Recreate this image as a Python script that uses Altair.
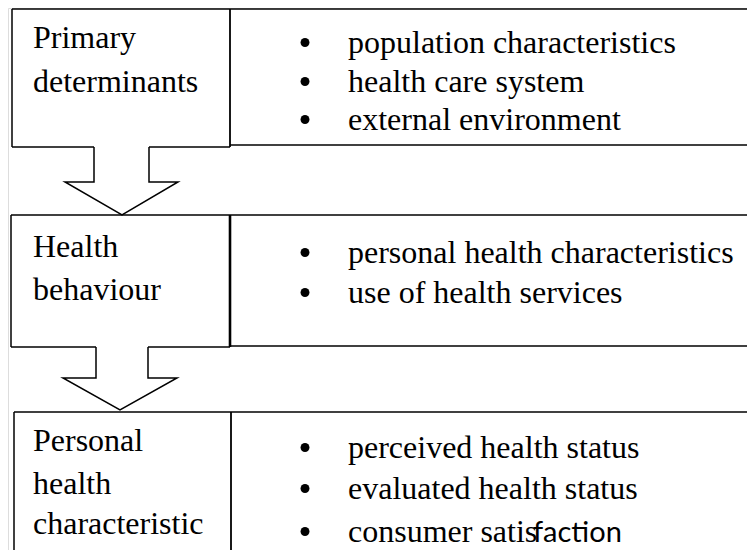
import altair as alt
import pandas as pd

# ---------------- content ----------------
left_labels = [
    ["Primary", "determinants"],
    ["Health", "behaviour"],
    ["Personal", "health", "characteristic"],
]
bullet_items = [
    ["population characteristics", "health care system", "external environment"],
    ["personal health characteristics", "use of health services"],
    ["perceived health status", "evaluated health status", "consumer satis"],
]
tail_text = "faction"  # end of the last item, set in a sans font as in the source

# ---------------- layout (page pixels) ----------------
M = 8
PW, PH = 739, 542          # plot area inside the 8px page margin
left_baselines = [[48, 92], [257, 300], [451, 494, 534]]
right_baselines = [[53, 92, 130], [263, 303], [458, 499, 542]]
LEFT_X = 33
BULLET_X = 305
TEXT_X = 348
BULLET_DY = 10.5
TAIL_X = 533
RIGHT_END = 760

# straight frame segments: x1, y1, x2, y2, stroke width
segments = [
    # box 1
    (12, 9, RIGHT_END, 9, 1.5),
    (12, 9, 12, 147, 1.5),
    (230, 9, 230, 147, 1.8),
    (12, 147, 94, 147, 1.5),
    (149, 147, 230, 147, 1.5),
    (230, 145, RIGHT_END, 145, 1.5),
    # box 2
    (11, 215, RIGHT_END, 215, 1.5),
    (11, 215, 11, 347, 1.5),
    (230, 215, 230, 347, 2.6),
    (11, 347, 96, 347, 1.5),
    (148, 347, 230, 347, 1.5),
    (230, 346, RIGHT_END, 346, 1.5),
    # box 3
    (14, 412, RIGHT_END, 412, 1.5),
    (14, 412, 14, 570, 1.5),
    (231, 412, 231, 570, 1.8),
]

# block arrows (open at the top where they join the box above)
arrows = [
    [(94, 147), (94, 182), (65, 182), (122, 215), (178, 182), (149, 182), (149, 147)],
    [(96, 347), (96, 378), (63, 378), (120, 410), (177, 378), (148, 378), (148, 347)],
]

# ---------------- tables ----------------
seg_df = pd.DataFrame(segments, columns=["x", "y", "x2", "y2", "w"])

arrow_rows = []
for i, pts in enumerate(arrows):
    for j, (x, y) in enumerate(pts):
        arrow_rows.append({"id": i, "ord": j, "x": x, "y": y})
arrow_df = pd.DataFrame(arrow_rows)

left_rows = []
for labels, bases in zip(left_labels, left_baselines):
    for t, b in zip(labels, bases):
        left_rows.append({"x": LEFT_X, "y": b, "t": t})
left_df = pd.DataFrame(left_rows)

right_rows, bullet_rows = [], []
for items, bases in zip(bullet_items, right_baselines):
    for t, b in zip(items, bases):
        right_rows.append({"x": TEXT_X, "y": b, "t": t})
        bullet_rows.append({"x": BULLET_X, "y": b - BULLET_DY})
right_df = pd.DataFrame(right_rows)
bullet_df = pd.DataFrame(bullet_rows)
tail_df = pd.DataFrame([{"x": TAIL_X, "y": right_baselines[2][2], "t": tail_text}])

# ---------------- scales ----------------
xs = alt.Scale(domain=[M, M + PW], nice=False, zero=False)
ys = alt.Scale(domain=[M + PH, M], nice=False, zero=False)

def X(f="x"):
    return alt.X(f + ":Q", scale=xs, axis=None)

def Y(f="y"):
    return alt.Y(f + ":Q", scale=ys, axis=None)

frame = alt.Chart(seg_df).mark_rule(color="#000000").encode(
    x=X(), y=Y(), x2="x2:Q", y2="y2:Q",
    strokeWidth=alt.StrokeWidth("w:Q", scale=None),
)

arrow = alt.Chart(arrow_df).mark_line(color="#000000", strokeWidth=1.5, strokeJoin="miter").encode(
    x=X(), y=Y(), detail="id:N", order="ord:Q",
)

SERIF = "Liberation Serif, Times New Roman, Times, serif"
serif = dict(font=SERIF, fontSize=32, color="#000000",
             align="left", baseline="alphabetic")

left_text = alt.Chart(left_df).mark_text(**serif).encode(x=X(), y=Y(), text="t:N")
right_text = alt.Chart(right_df).mark_text(**serif).encode(x=X(), y=Y(), text="t:N")
tail = alt.Chart(tail_df).mark_text(
    font="Lato, Open Sans, sans-serif", fontSize=29, color="#000000",
    align="left", baseline="alphabetic"
).encode(x=X(), y=Y(), text="t:N")

dots = alt.Chart(bullet_df).mark_circle(color="#000000", opacity=1, size=80).encode(x=X(), y=Y())

chart = alt.layer(frame, arrow, left_text, right_text, tail, dots).properties(
    width=PW, height=PH, padding=0, autosize=alt.AutoSizeParams(type="none")
).configure_view(stroke=None).configure(background="white")

chart.save("out.html", embed_options={"renderer": "svg", "actions": False})
